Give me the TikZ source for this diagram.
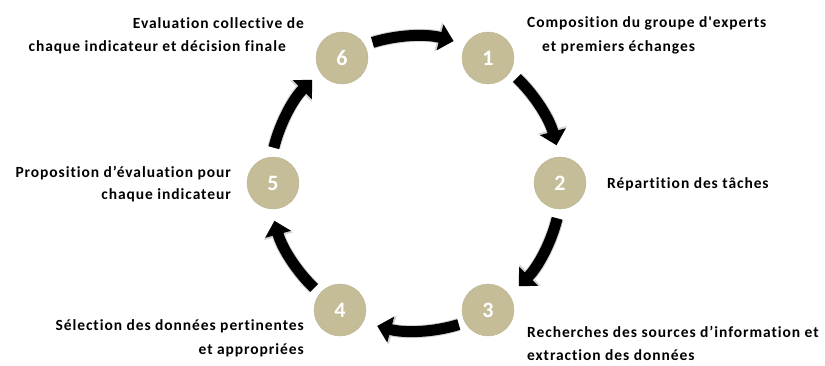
\documentclass[tikz,border=0pt]{standalone}
\usepackage{fontspec}
\setmainfont{Carlito}
\newfontfamily\labfont[LetterSpace=6,Ligatures=NoCommon]{Carlito}
\usetikzlibrary{arrows.meta}
\definecolor{tan}{RGB}{196,189,151}
\begin{document}
\begin{tikzpicture}[x=1pt,y=-1pt,
  stepcircle/.style={circle,fill=tan,draw=tan!85!gray,minimum size=52pt,inner sep=0pt,text=white,font=\fontsize{22}{22}\selectfont\bfseries},
  lab/.style={inner sep=0pt,font=\labfont\fontsize{15.5}{23}\selectfont\bfseries,text=black},
  cyc/.style={line width=11pt,-{Triangle[length=14pt,width=26pt]},black,
    preaction={draw=gray!35,line width=13pt,-{Triangle[length=16pt,width=29pt]}}}]
\useasboundingbox (0,0) rectangle (825,365);
\coordinate (C) at (415.5,183);
\node[stepcircle] (n6) at (342,58) {6};
\node[stepcircle] (n1) at (488,58) {1};
\node[stepcircle] (n2) at (560,183) {2};
\node[stepcircle] (n3) at (488,310) {3};
\node[stepcircle] (n4) at (340,310) {4};
\node[stepcircle] (n5) at (273,183) {5};
% arrows
\coordinate (s61) at ([shift={(C)}]-107:147);
\coordinate (s12) at ([shift={(C)}]-46:146);
\coordinate (s23) at ([shift={(C)}]14:146);
\coordinate (s34) at ([shift={(C)}]73:148);
\coordinate (s45) at ([shift={(C)}]134:146);
\coordinate (s56) at ([shift={(C)}]-166:146);
\draw[cyc] (s61) arc[start angle=-107,end angle=-75,radius=147];
\draw[cyc] (s12) arc[start angle=-46,end angle=-15,radius=146];
\draw[cyc] (s23) arc[start angle=14,end angle=45,radius=146];
\draw[cyc] (s34) arc[start angle=73,end angle=105,radius=148];
\draw[cyc] (s45) arc[start angle=134,end angle=165,radius=146];
\draw[cyc] (s56) arc[start angle=-166,end angle=-135,radius=146];
% labels
\node[lab,anchor=east] (t6a) at (304,23) {Evaluation collective de};
\node[lab,anchor=east] (t6b) at (286,47) {chaque indicateur et décision finale};
\node[lab,anchor=west] (t1a) at (527,23) {Composition du groupe d'experts};
\node[lab,anchor=west] (t1b) at (542,47) {et premiers échanges};
\node[lab,anchor=west] (t2) at (607,184) {Répartition des tâches};
\node[lab,anchor=east] (t5a) at (231,173) {Proposition d’évaluation pour};
\node[lab,anchor=east] (t5b) at (231,195) {chaque indicateur};
\node[lab,anchor=east] (t4a) at (304,326) {Sélection des données pertinentes};
\node[lab,anchor=east] (t4b) at (304,350) {et appropriées};
\node[lab,anchor=west] (t3a) at (527,332) {Recherches des sources d’information et};
\node[lab,anchor=west] (t3b) at (527,355) {extraction des données};
\end{tikzpicture}
\end{document}
